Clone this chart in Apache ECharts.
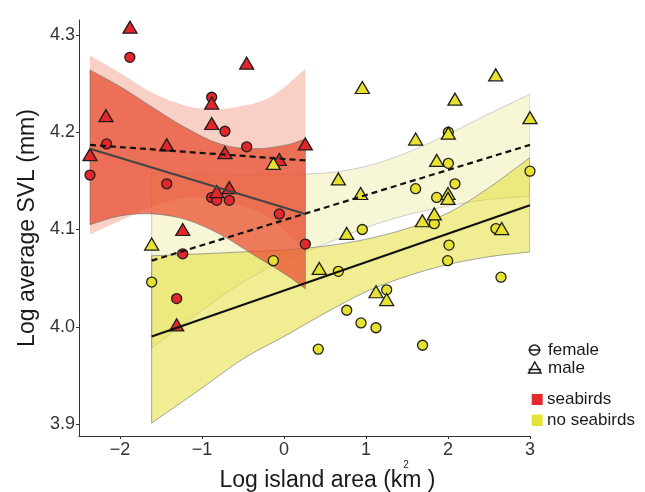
<!DOCTYPE html>
<html><head><meta charset="utf-8">
<script src="https://cdn.jsdelivr.net/npm/echarts@6/dist/echarts.min.js"></script>
<style>html,body{margin:0;padding:0;background:#fff}#c{width:645px;height:492px}</style>
</head><body><div id="c"></div>
<script>
const xTicks = [-2, -1, 0, 1, 2, 3];
const yTicks = [3.9, 4.0, 4.1, 4.2, 4.3];

// observed points: [log island area, log average SVL]
const seabirdFemale = [[-1.88,4.277],[-0.882,4.236],[-0.72,4.201],[-2.163,4.188],[-0.455,4.185],[-2.366,4.156],[-1.43,4.147],[-0.882,4.133],[-0.82,4.130],[-0.667,4.130],[-0.057,4.116],[0.26,4.085],[-1.235,4.075],[-1.309,4.029]];
const seabirdMale = [[-1.878,4.308],[-0.455,4.271],[-0.882,4.230],[-2.171,4.217],[-0.882,4.209],[-1.43,4.187],[0.26,4.188],[-2.366,4.177],[-0.72,4.179],[-0.057,4.172],[-0.667,4.143],[-0.82,4.139],[-1.235,4.100],[-1.309,4.002]];
const noSeabirdFemale = [[-0.13,4.068],[-1.614,4.046],[0.418,3.977],[2.004,4.200],[2.004,4.168],[3.0,4.160],[2.085,4.147],[1.605,4.142],[1.862,4.133],[1.833,4.106],[0.955,4.100],[2.585,4.101],[2.012,4.084],[1.996,4.068],[0.663,4.057],[2.646,4.051],[1.252,4.038],[0.765,4.017],[0.939,4.004],[1.122,3.999],[1.69,3.981]];
const noSeabirdMale = [[-0.13,4.168],[-1.614,4.085],[2.582,4.259],[0.955,4.246],[2.085,4.234],[3.0,4.215],[2.004,4.199],[1.605,4.193],[1.862,4.171],[0.663,4.152],[0.935,4.137],[2.0,4.137],[2.0,4.132],[1.687,4.109],[1.833,4.116],[0.765,4.096],[2.655,4.101],[0.43,4.060],[1.122,4.036],[1.252,4.028]];

// fitted lines
const fitSeabirdFemale = [[-2.366,4.183],[0.26,4.116]];
const fitSeabirdMale = [[-2.366,4.187],[0.26,4.171]];
const fitNoSeabirdFemale = [[-1.614,3.990],[3.0,4.125]];
const fitNoSeabirdMale = [[-1.614,4.068],[3.0,4.187]];

// confidence bands: [x, lower, upper]
const bandSeabirdMale = [[-2.366,4.095,4.279],[-2.0,4.109,4.261],[-1.593,4.124,4.240],[-1.187,4.133,4.227],[-0.882,4.132,4.224],[-0.577,4.126,4.226],[-0.171,4.112,4.236],[0.26,4.077,4.265]];
const bandSeabirdFemale = [[-2.366,4.105,4.264],[-2.0,4.114,4.247],[-1.593,4.116,4.225],[-1.187,4.110,4.204],[-0.78,4.095,4.188],[-0.374,4.074,4.183],[0.033,4.053,4.187],[0.26,4.039,4.193]];
const bandNoSeabirdMale = [[-1.614,3.978,4.158],[-1.0,4.017,4.157],[-0.5,4.046,4.156],[0.0,4.068,4.157],[0.5,4.085,4.158],[1.0,4.102,4.165],[1.5,4.115,4.179],[2.0,4.124,4.198],[2.5,4.131,4.219],[3.0,4.134,4.239]];
const bandNoSeabirdFemale = [[-1.614,3.901,4.073],[-1.0,3.937,4.075],[-0.5,3.967,4.077],[0.0,3.990,4.079],[0.5,4.014,4.083],[1.0,4.036,4.090],[1.5,4.052,4.101],[2.0,4.064,4.117],[2.5,4.072,4.143],[3.0,4.077,4.174]];

const FONT = 'Liberation Sans, Arial, sans-serif';
const RED = '#e2262b', YEL = '#e6e22f', EDGE = '#1e1e1e';

function band(name, rows, fill, stroke) {
  return {
    type: 'custom', name, data: rows, encode: {x: 0, y: [1, 2]}, silent: true, clip: true,
    renderItem: (params, api) => {
      if (params.dataIndex !== 0) return null;
      const up = rows.map(r => api.coord([r[0], r[2]]));
      const lo = rows.slice().reverse().map(r => api.coord([r[0], r[1]]));
      const pts = [up[0]].concat(up, [up[up.length - 1], lo[0]], lo, [lo[lo.length - 1]]);
      return {type: 'polygon', shape: {points: pts, smooth: 0.35},
        style: {fill: fill, stroke: stroke, lineWidth: 1}};
    }
  };
}
function fit(name, data, color, dashed) {
  return {type: 'line', name, data, symbol: 'none', silent: true,
    lineStyle: {color, width: 2.2, type: dashed ? [6, 4] : 'solid'}};
}
function pts(name, data, fill, shape) {
  return {type: 'scatter', name, data, symbol: shape,
    symbolSize: shape === 'circle' ? 10 : [14, 12],
    itemStyle: {color: fill, borderColor: EDGE, borderWidth: 1.3, opacity: 1}};
}

const chart = echarts.init(document.getElementById('c'), null, {renderer: 'canvas'});
chart.setOption({
  animation: false,
  backgroundColor: '#fff',
  grid: {left: 79, right: 115, top: 20, bottom: 56, outerBoundsMode: 'none', containLabel: false},
  xAxis: {
    type: 'value', min: -2.5, max: 3,
    name: 'Log island area (km )', nameLocation: 'middle', nameGap: 33,
    nameTextStyle: {fontFamily: FONT, color: '#1a1a1a', fontSize: 23, padding: [0, 0, 0, 46]},
    axisLine: {onZero: false, lineStyle: {color: '#333', width: 1}},
    axisTick: {length: 3, lineStyle: {color: '#333'}, customValues: xTicks},
    axisLabel: {customValues: xTicks, fontSize: 18, fontFamily: FONT, color: '#333', margin: 5,
      formatter: v => (v < 0 ? '\u2212' + Math.abs(v) : String(v))},
    splitLine: {show: false}
  },
  yAxis: {
    type: 'value', min: 3.8877, max: 4.3154,
    name: 'Log average SVL (mm)', nameLocation: 'middle', nameGap: 36,
    nameTextStyle: {fontFamily: FONT, color: '#1a1a1a', fontSize: 23},
    axisLine: {show: true, onZero: false, lineStyle: {color: '#333', width: 1}},
    axisTick: {show: true, length: 3, lineStyle: {color: '#333'}, customValues: yTicks},
    axisLabel: {customValues: yTicks, fontSize: 18, fontFamily: FONT, color: '#333', margin: 4,
      formatter: v => Number(v).toFixed(1)},
    splitLine: {show: false}
  },
  series: [
    band('no seabirds male CI', bandNoSeabirdMale, 'rgba(230,225,120,0.30)', 'rgba(170,170,170,0.55)'),
    band('no seabirds female CI', bandNoSeabirdFemale, 'rgba(225,220,40,0.50)', 'rgba(110,110,110,0.6)'),
    fit('no seabirds female fit', fitNoSeabirdFemale, '#111', false),
    fit('no seabirds male fit', fitNoSeabirdMale, '#111', true),
    band('seabirds male CI', bandSeabirdMale, 'rgba(235,120,90,0.35)', 'rgba(0,0,0,0)'),
    band('seabirds female CI', bandSeabirdFemale, 'rgba(232,80,50,0.75)', 'rgba(110,110,110,0.6)'),
    fit('seabirds female fit', fitSeabirdFemale, '#444', false),
    fit('seabirds male fit', fitSeabirdMale, '#111', true),
    pts('seabirds female', seabirdFemale, RED, 'circle'),
    pts('seabirds male', seabirdMale, RED, 'triangle'),
    pts('no seabirds female', noSeabirdFemale, YEL, 'circle'),
    pts('no seabirds male', noSeabirdMale, YEL, 'triangle')
  ],
  graphic: [
    {type: 'text', x: 406, y: 465, style: {text: '2', font: '10px ' + FONT, fill: '#1a1a1a', align: 'center', verticalAlign: 'middle'}},
    {type: 'circle', shape: {cx: 534.5, cy: 350, r: 5}, style: {fill: 'none', stroke: '#1a1a1a', lineWidth: 1.5}},
    {type: 'line', shape: {x1: 528.5, y1: 350, x2: 540.5, y2: 350}, style: {stroke: '#1a1a1a', lineWidth: 1.5}},
    {type: 'text', x: 548, y: 350, style: {text: 'female', font: '17px ' + FONT, fill: '#1a1a1a', verticalAlign: 'middle'}},
    {type: 'polygon', shape: {points: [[534.8, 362], [541, 373], [528.6, 373]]}, style: {fill: 'none', stroke: '#1a1a1a', lineWidth: 1.5}},
    {type: 'line', shape: {x1: 528.5, y1: 369.5, x2: 541, y2: 369.5}, style: {stroke: '#1a1a1a', lineWidth: 1.5}},
    {type: 'text', x: 548, y: 368, style: {text: 'male', font: '17px ' + FONT, fill: '#1a1a1a', verticalAlign: 'middle'}},
    {type: 'rect', shape: {x: 531.7, y: 394, width: 11, height: 11}, style: {fill: '#e32b2b'}},
    {type: 'text', x: 547, y: 399.5, style: {text: 'seabirds', font: '17px ' + FONT, fill: '#1a1a1a', verticalAlign: 'middle'}},
    {type: 'rect', shape: {x: 531.7, y: 414.5, width: 11, height: 11.5}, style: {fill: '#e5e33a'}},
    {type: 'text', x: 547, y: 420, style: {text: 'no seabirds', font: '17px ' + FONT, fill: '#1a1a1a', verticalAlign: 'middle'}}
  ]
});
</script>
</body></html>
